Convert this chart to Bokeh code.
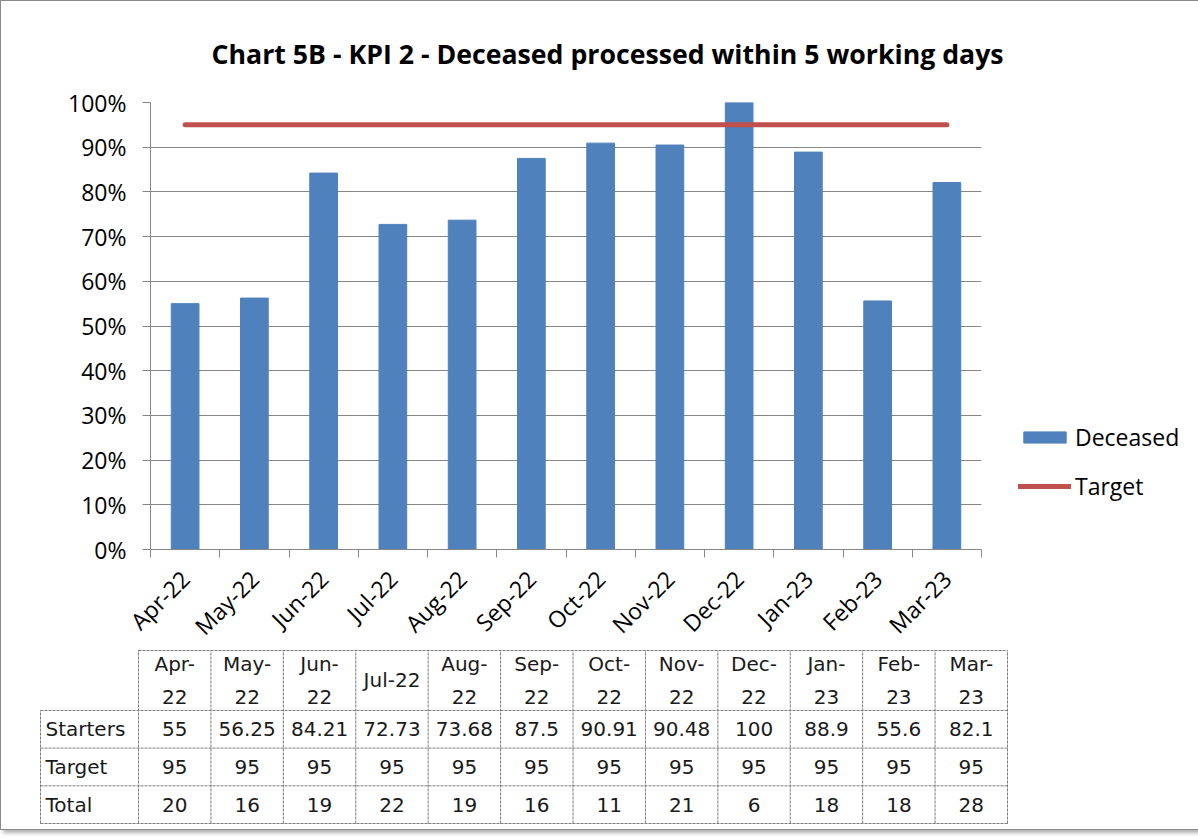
from math import pi
from bokeh.plotting import figure
from bokeh.models import Range1d, FixedTicker, NumeralTickFormatter, Legend, LegendItem
from bokeh.layouts import column
from bokeh.embed import file_html
from bokeh.resources import INLINE
from bokeh.core.properties import value

# ---------------- data ----------------
months = ["Apr-22", "May-22", "Jun-22", "Jul-22", "Aug-22", "Sep-22",
          "Oct-22", "Nov-22", "Dec-22", "Jan-23", "Feb-23", "Mar-23"]
header_labels = ["Apr-\n22", "May-\n22", "Jun-\n22", "Jul-22", "Aug-\n22", "Sep-\n22",
                 "Oct-\n22", "Nov-\n22", "Dec-\n22", "Jan-\n23", "Feb-\n23", "Mar-\n23"]
deceased_pct = [55, 56.25, 84.21, 72.73, 73.68, 87.5, 90.91, 90.48, 100, 88.9, 55.6, 82.1]
target_pct = [95, 95, 95, 95, 95, 95, 95, 95, 95, 95, 95, 95]
totals = [20, 16, 19, 22, 19, 16, 11, 21, 6, 18, 18, 28]
row_labels = ["Starters", "Target", "Total"]
y_tick_values = [0, 10, 20, 30, 40, 50, 60, 70, 80, 90, 100]

TITLE = "Chart 5B - KPI 2 - Deceased processed within 5 working days"

BLUE = "#4F81BD"
RED = "#C0504D"
GRID = "#868686"
FONT = "Open Sans"
TFONT = "DejaVu Sans"

n = len(months)
xs = [i + 0.5 for i in range(n)]
W = 1182

# ---------------- chart ----------------
p = figure(width=W, height=630, frame_width=831, frame_height=447,
           x_range=Range1d(0, n), y_range=Range1d(0, 1),
           output_backend="svg", toolbar_location=None,
           min_border_left=149, min_border_right=202, min_border_top=96, min_border_bottom=87)
p.frame_align = False
p.outline_line_color = None
p.background_fill_color = "white"

bars = p.vbar(x=xs, top=[v / 100 for v in deceased_pct], width=0.4,
              fill_color=BLUE, line_color=BLUE)
tline = p.line(x=xs, y=[v / 100 for v in target_pct], line_width=5,
               line_color=RED, line_cap="round")

p.title.text = TITLE
p.title.text_font = FONT
p.title.text_font_style = "bold"
p.title.text_font_size = "26.7px"
p.title.text_color = "black"
p.title.align = "left"
p.title.offset = 61
p.title.standoff = 62

p.xaxis.ticker = FixedTicker(ticks=xs, minor_ticks=list(range(n + 1)))
p.xaxis.major_label_overrides = {x: m for x, m in zip(xs, months)}
p.xaxis.major_tick_line_color = None
p.xaxis.minor_tick_line_color = GRID
p.xaxis.minor_tick_in = 0
p.xaxis.minor_tick_out = 8
p.xaxis.major_label_orientation = pi / 4
p.xaxis.major_label_standoff = 17
p.xgrid.visible = False

p.yaxis.ticker = FixedTicker(ticks=[v / 100 for v in y_tick_values], minor_ticks=[])
p.yaxis.formatter = NumeralTickFormatter(format="0%")
p.yaxis.major_tick_in = 0
p.yaxis.major_tick_out = 8
p.yaxis.major_tick_line_color = GRID
p.yaxis.minor_tick_line_color = None
p.yaxis.major_label_standoff = 16

for ax in (p.xaxis, p.yaxis):
    ax.axis_line_color = GRID
    ax.major_label_text_font = FONT
    ax.major_label_text_font_size = "23px"
    ax.major_label_text_color = "black"

p.ygrid.grid_line_color = GRID
p.ygrid.grid_line_width = 1

legend = Legend(items=[LegendItem(label="Deceased", renderers=[bars]),
                       LegendItem(label="Target", renderers=[tline])],
                location=(37, 47), glyph_width=53, glyph_height=14,
                label_text_font=FONT, label_text_font_size="23px", label_text_color="black",
                spacing=17, padding=0, margin=0, label_standoff=4,
                border_line_color=None, background_fill_alpha=0)
p.add_layout(legend, "right")

# ---------------- data table ----------------
col_px = 72.4
row_px = 37.7
label_units = 98 / col_px
hdr_units = 60 / row_px
padx = 2 / col_px
pady = 2 / row_px
x0 = -label_units

t = figure(width=W, height=184, frame_width=971, frame_height=177,
           x_range=Range1d(x0 - padx, n + padx),
           y_range=Range1d(-pady, 3 + hdr_units + pady),
           x_axis_type=None, y_axis_type=None,
           output_backend="svg", toolbar_location=None,
           min_border_left=37, min_border_right=174, min_border_top=3, min_border_bottom=4)
t.frame_align = False
t.margin = (-10, 0, 0, 0)
t.outline_line_color = None
t.grid.visible = False

nrows = len(row_labels)
hx0, hx1, hy0, hy1 = [], [], [], []
for r in range(nrows + 1):
    hx0.append(x0); hx1.append(n); hy0.append(r); hy1.append(r)
hx0.append(0); hx1.append(n); hy0.append(nrows + hdr_units); hy1.append(nrows + hdr_units)
hx0.append(x0); hx1.append(x0); hy0.append(0); hy1.append(nrows)
for c in range(n + 1):
    hx0.append(c); hx1.append(c); hy0.append(0); hy1.append(nrows + hdr_units)
t.segment(x0=hx0, y0=hy0, x1=hx1, y1=hy1, line_color="#7a7a7a", line_width=1, line_dash="3 1")

tstyle = dict(text_font=value(TFONT), text_font_size="20px", text_color="#1a1a1a",
              text_baseline="middle")
t.text(x=xs, y=[nrows + hdr_units / 2] * n, text=header_labels, text_align="center",
       text_line_height=1.4, **tstyle)

rows_values = [[f"{v:g}" for v in deceased_pct],
               [f"{v:g}" for v in target_pct],
               [str(v) for v in totals]]
for r, vals in enumerate(rows_values):
    yc = nrows - r - 0.5
    t.text(x=xs, y=[yc] * n, text=vals, text_align="center", **tstyle)
    t.text(x=[x0], y=[yc], text=[row_labels[r]], text_align="left", x_offset=5, **tstyle)

layout = column(p, t, styles={"border": "1px solid #8a8a8a",
                              "box-shadow": "3px 3px 4px #b0b0b0"})

open("out.html", "w").write(file_html(layout, INLINE))
